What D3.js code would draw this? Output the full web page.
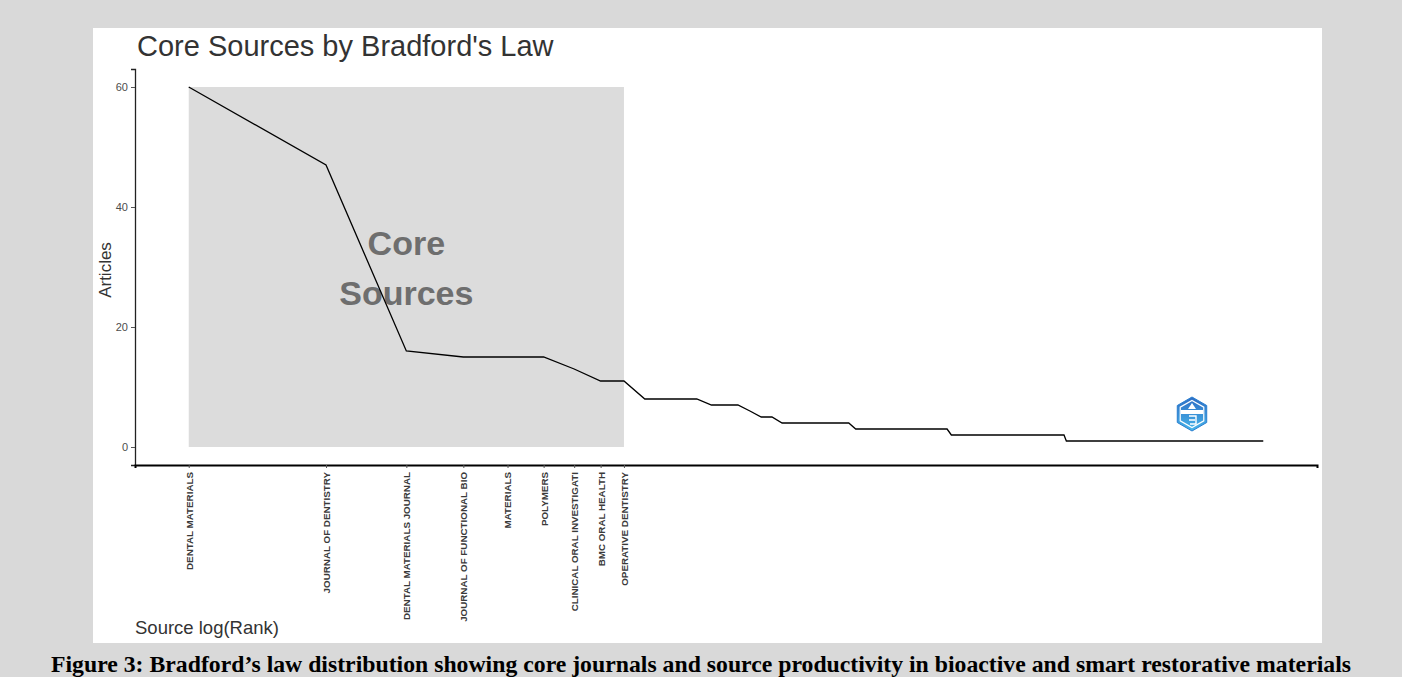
<!DOCTYPE html>
<html>
<head>
<meta charset="utf-8">
<script src="https://cdn.jsdelivr.net/npm/d3@7"></script>
<style>
  html, body { margin: 0; padding: 0; background: #d9d9d9; }
  svg { display: block; }
</style>
</head>
<body>
<svg id="chart" width="1402" height="677"></svg>
<script>
// Core sources (zone 1), in rank order
const coreSources = [
  "DENTAL MATERIALS",
  "JOURNAL OF DENTISTRY",
  "DENTAL MATERIALS JOURNAL",
  "JOURNAL OF FUNCTIONAL BIO",
  "MATERIALS",
  "POLYMERS",
  "CLINICAL ORAL INVESTIGATI",
  "BMC ORAL HEALTH",
  "OPERATIVE DENTISTRY"
];
const coreArticles = [60, 47, 16, 15, 15, 15, 13, 11, 11];

// Remaining sources, grouped: articles per source and number of sources with that count
const tailArticles = [8, 7, 6, 5, 4, 3, 2, 1];
const tailSourceCounts = [4, 3, 1, 2, 9, 18, 37, 144];

const yTicks = [0, 20, 40, 60];

const titleText = "Core Sources by Bradford's Law";
const yLabel = "Articles";
const xLabel = "Source log(Rank)";
const captionText = "Figure 3: Bradford\u2019s law distribution showing core journals and source productivity in bioactive and smart restorative materials";

// Build the ranked series
const series = coreArticles.map((v, i) => ({ rank: i + 1, articles: v, name: coreSources[i] }));
tailArticles.forEach((v, k) => {
  for (let j = 0; j < tailSourceCounts[k]; j++) {
    series.push({ rank: series.length + 1, articles: v, name: null });
  }
});
const nCore = coreSources.length;

const svg = d3.select("#chart");

// white plot card
svg.append("rect")
  .attr("x", 93).attr("y", 28).attr("width", 1229).attr("height", 615)
  .attr("fill", "#ffffff");

const plot = { left: 135, right: 1317, top: 69, bottom: 465 };

const maxLog = Math.log(series.length);
const padX = maxLog * 0.05;
const x = d3.scaleLinear()
  .domain([-padX, maxLog + padX])
  .range([plot.left, plot.right]);

const maxY = d3.max(series, d => d.articles);
const padY = maxY * 0.05;
const y = d3.scaleLinear()
  .domain([-padY, maxY + padY])
  .range([plot.bottom, plot.top]);

// shaded core zone
svg.append("rect")
  .attr("x", x(0))
  .attr("y", y(maxY))
  .attr("width", x(Math.log(nCore)) - x(0))
  .attr("height", y(0) - y(maxY))
  .attr("fill", "#dcdcdc");

// zone label
const cx = (x(0) + x(Math.log(nCore))) / 2;
const cy = (y(0) + y(maxY)) / 2;
const zoneLabel = svg.append("text")
  .attr("text-anchor", "middle")
  .attr("font-family", "Liberation Sans, Arial, sans-serif")
  .attr("font-weight", "bold")
  .attr("font-size", 34)
  .attr("fill", "#6e6e6e");
zoneLabel.append("tspan").attr("x", cx).attr("y", cy - 12).text("Core");
zoneLabel.append("tspan").attr("x", cx).attr("y", cy + 38).text("Sources");

// line
const line = d3.line()
  .x(d => x(Math.log(d.rank)))
  .y(d => y(d.articles));
svg.append("path")
  .datum(series)
  .attr("d", line)
  .attr("fill", "none")
  .attr("stroke", "#000")
  .attr("stroke-width", 1.3);

// y axis
const yAxis = d3.axisLeft(y).tickValues(yTicks).tickSize(4).tickPadding(3);
const gy = svg.append("g")
  .attr("transform", `translate(${plot.left},0)`)
  .call(yAxis);
gy.select(".domain").attr("stroke", "#222").attr("stroke-width", 1.3);
gy.selectAll(".tick line").attr("stroke", "#555");
gy.selectAll(".tick text")
  .attr("font-family", "Liberation Sans, Arial, sans-serif")
  .attr("font-size", 11)
  .attr("fill", "#4d4d4d");

// x axis: ticks at core sources only
const coreData = series.slice(0, nCore);
const xAxis = d3.axisBottom(x)
  .tickValues(coreData.map(d => Math.log(d.rank)))
  .tickFormat((d, i) => coreData[i].name)
  .tickSize(3).tickPadding(4);
const gx = svg.append("g")
  .attr("transform", `translate(0,${plot.bottom})`)
  .call(xAxis);
gx.select(".domain").attr("stroke", "#000").attr("stroke-width", 2);
gx.selectAll(".tick line").attr("stroke", "#555");
gx.selectAll(".tick text")
  .attr("font-family", "Liberation Sans, Arial, sans-serif")
  .attr("font-size", 9.8)
  .attr("font-weight", "bold")
  .attr("fill", "#3a3a3a")
  .attr("text-anchor", "end")
  .attr("transform", "rotate(-90)")
  .attr("x", -7)
  .attr("y", 0)
  .attr("dy", "0.35em");

// title
svg.append("text")
  .attr("x", 137).attr("y", 56)
  .attr("font-family", "Liberation Sans, Arial, sans-serif")
  .attr("font-size", 29)
  .attr("fill", "#333")
  .text(titleText);

// axis titles
svg.append("text")
  .attr("transform", `translate(111,${(plot.top + plot.bottom) / 2 + 3}) rotate(-90)`)
  .attr("text-anchor", "middle")
  .attr("font-family", "Liberation Sans, Arial, sans-serif")
  .attr("font-size", 17)
  .attr("fill", "#333")
  .text(yLabel);

svg.append("text")
  .attr("x", 135).attr("y", 634)
  .attr("font-family", "Liberation Sans, Arial, sans-serif")
  .attr("font-size", 18.5)
  .attr("fill", "#333")
  .text(xLabel);

// small hexagonal badge
const badge = svg.append("g").attr("transform", "translate(1192,414)");
const grad = svg.append("defs").append("linearGradient")
  .attr("id", "badgeGrad").attr("x1", 0).attr("y1", 0).attr("x2", 0).attr("y2", 1);
grad.append("stop").attr("offset", "0%").attr("stop-color", "#2c6cc4");
grad.append("stop").attr("offset", "100%").attr("stop-color", "#47b6ea");
const hex = d3.range(6).map(k => {
  const a = Math.PI / 3 * k - Math.PI / 2;
  return [17 * Math.cos(a), 17 * Math.sin(a)];
});
badge.append("polygon")
  .attr("points", hex.map(p => p.join(",")).join(" "))
  .attr("fill", "url(#badgeGrad)")
  .attr("stroke", "#2a7fd0").attr("stroke-width", 1);
const inner = hex.map(p => [p[0] * 0.8, p[1] * 0.8]);
badge.append("polygon")
  .attr("points", inner.map(p => p.join(",")).join(" "))
  .attr("fill", "none").attr("stroke", "#ffffff").attr("stroke-width", 1.2);
badge.append("rect").attr("x", -11).attr("y", -4).attr("width", 22).attr("height", 4).attr("fill", "#ffffff");
badge.append("path").attr("d", "M0,-11 L4,-5 L-4,-5 Z").attr("fill", "#ffffff");
badge.append("path").attr("d", "M-3,2 L4,2 L4,10 L-2,10 M-3,6 L3,6")
  .attr("fill", "none").attr("stroke", "#ffffff").attr("stroke-width", 1.4);

// caption
svg.append("text")
  .attr("x", 701).attr("y", 672)
  .attr("text-anchor", "middle")
  .attr("font-family", "Liberation Serif, Times New Roman, serif")
  .attr("font-weight", "bold")
  .attr("font-size", 22.5)
  .attr("textLength", 1300)
  .attr("lengthAdjust", "spacingAndGlyphs")
  .attr("fill", "#000")
  .text(captionText);
</script>
</body>
</html>
